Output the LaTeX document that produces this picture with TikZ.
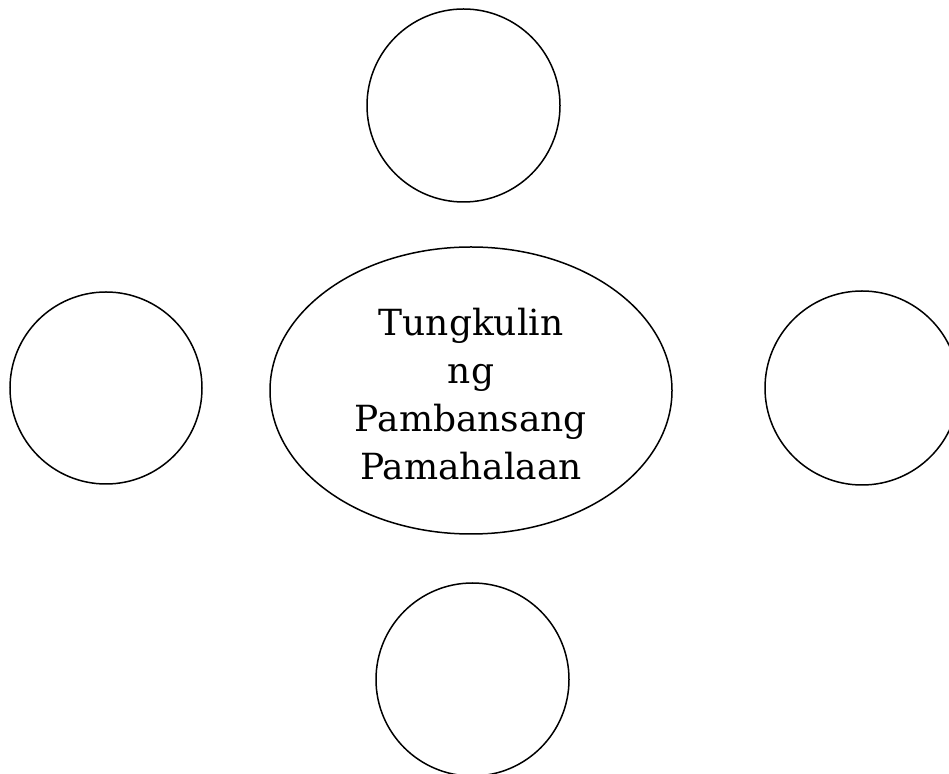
\documentclass[tikz,border=0pt]{standalone}
\usepackage{fontspec}
\setmainfont{DejaVu Serif}
\usetikzlibrary{shapes.geometric}
\begin{document}
\begin{tikzpicture}[x=1pt,y=1pt,
  ring/.style={circle,draw,line width=1.5pt,inner sep=0pt,minimum size=#1},
  hub/.style={ellipse,draw,line width=1.5pt,inner sep=0pt,
    minimum width=402pt,minimum height=287pt},
  hubtext/.style={align=center,inner sep=0pt,
    font=\fontsize{36}{48}\selectfont}]
\useasboundingbox (0,0) rectangle (949,773);
\node[ring=193pt] (top) at (463.5,667.5) {};
\node[ring=192pt] (left) at (106,385) {};
\node[ring=194pt] (right) at (862,385) {};
\node[ring=193pt] (bottom) at (472.5,93.5) {};
\node[hub] (hub) at (471,382.5) {};
\node[hubtext] (label) at ([yshift=-4pt]hub.center) {Tungkulin\\ng\\Pambansang\\Pamahalaan};
\end{tikzpicture}
\end{document}
